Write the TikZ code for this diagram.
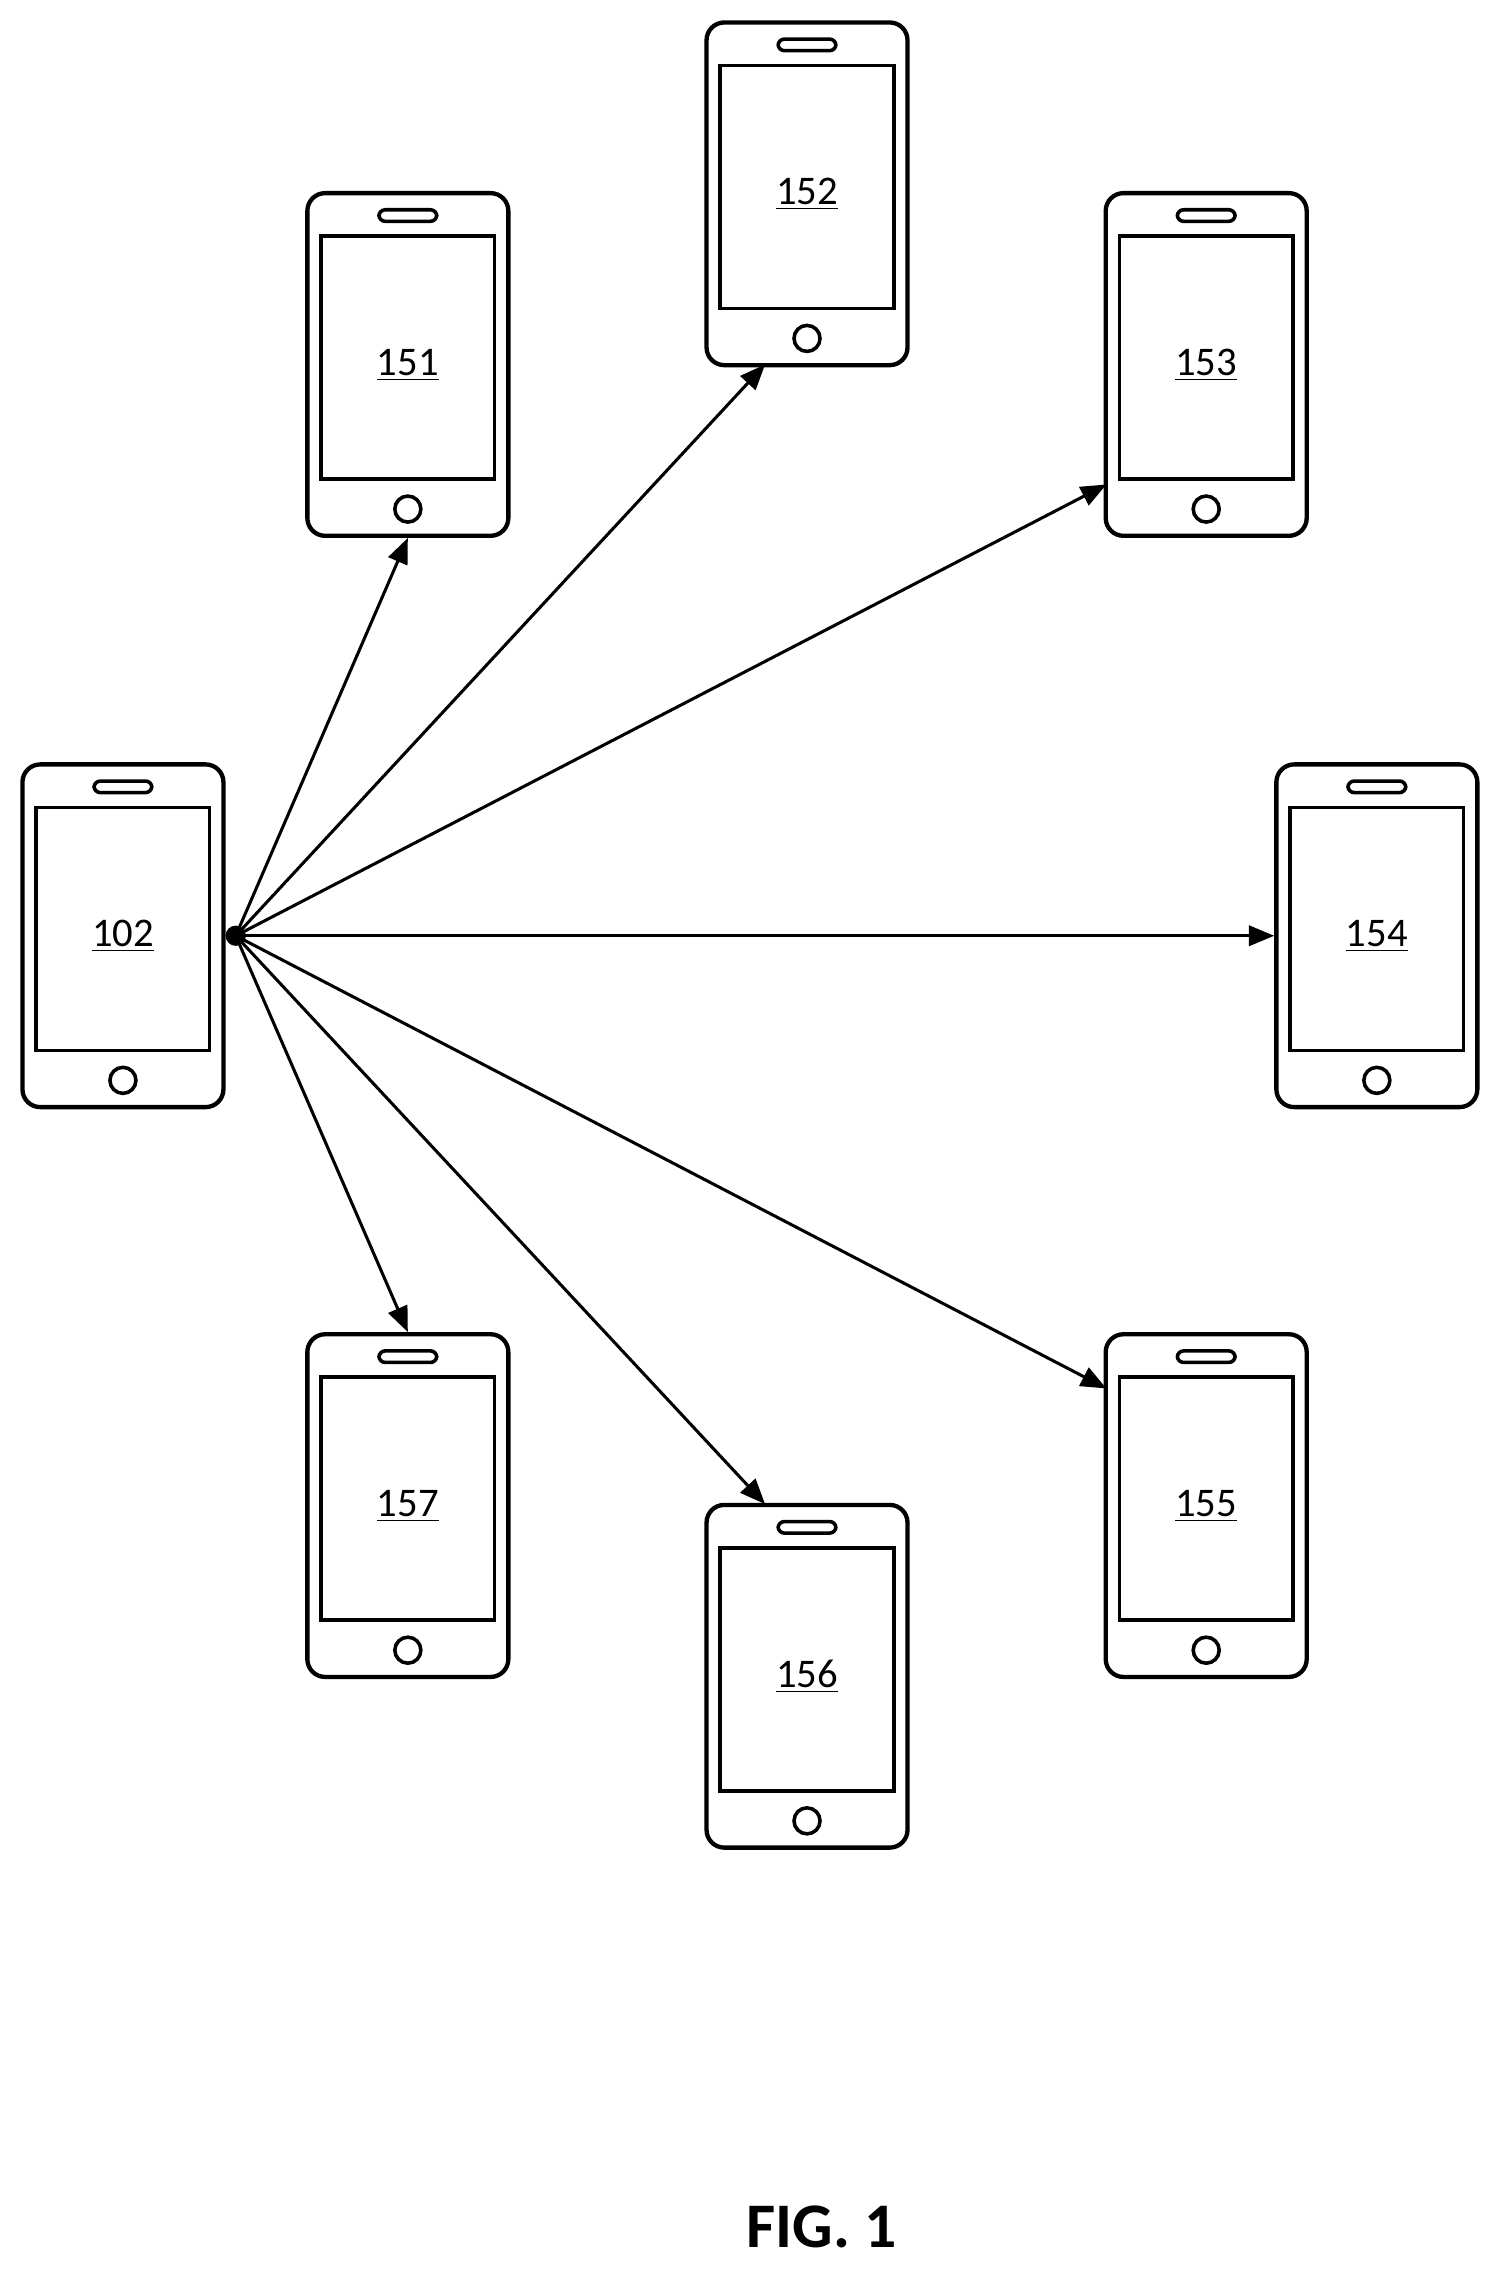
\documentclass[tikz,border=0pt]{standalone}
\usepackage{fontspec}
\setmainfont{Carlito}
\usetikzlibrary{positioning,arrows.meta}
\tikzset{
  body/.style={draw,line width=1.7pt,rounded corners=7pt,minimum width=2.78cm,minimum height=4.74cm,inner sep=0pt},
  screen/.style={draw,line width=1.4pt,minimum width=2.4cm,minimum height=3.36cm,inner sep=0pt},
  tag/.style={font=\fontsize{16}{18}\selectfont,inner sep=0pt},
  slot/.style={draw,line width=1.4pt,rounded corners=2.5pt,minimum width=0.8cm,minimum height=0.16cm,inner sep=0pt},
  button/.style={draw,line width=1.4pt,circle,minimum size=0.36cm,inner sep=0pt},
  link/.style={line width=1.2pt,-{Triangle[length=10pt,width=8pt]}}
}
\newcommand{\phone}[3]{%
  \node[body] (p#1) at (#2,#3) {};
  \node[screen,below=0.6cm of p#1.north,anchor=north] (s#1) {};
  \node[tag,below=0.1cm of s#1.center,anchor=center] (t#1) {\underline{#1}};
  \node[slot,below=0.34cm of p#1.north,anchor=center] (k#1) {};
  \node[button,above=0.4cm of p#1.south,anchor=center] (b#1) {};
}
\begin{document}
\begin{tikzpicture}[x=0.02cm,y=-0.02cm]
  \useasboundingbox (0,0) rectangle (1040,1573);
  % phones, centred on their bodies
  \phone{102}{85}{647}
  \phone{151}{282}{252}
  \phone{152}{558}{134}
  \phone{153}{834}{252}
  \phone{154}{952}{647}
  \phone{155}{834}{1041}
  \phone{156}{558}{1159}
  \phone{157}{282}{1041}
  % hub and arrow ends
  \coordinate (hub) at (163,647);
  \fill (hub) circle (0.14cm);
  \coordinate (e152) at (529,252);
  \coordinate (e153) at (765,335);
  \coordinate (e155) at (765,960);
  \coordinate (e156) at (529,1040);
  \draw[link] (hub) -- (p151.south);
  \draw[link] (hub) -- (e152);
  \draw[link] (hub) -- (e153);
  \draw[link] (hub) -- (p154.west);
  \draw[link] (hub) -- (e155);
  \draw[link] (hub) -- (e156);
  \draw[link] (hub) -- (p157.north);
  \node[font=\fontsize{25}{28}\selectfont\bfseries] (fig) at (568,1540) {FIG. 1};
\end{tikzpicture}
\end{document}
